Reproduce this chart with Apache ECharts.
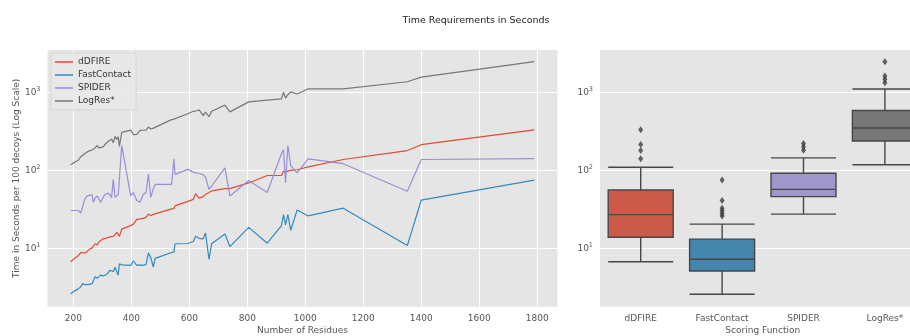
<!DOCTYPE html>
<html><head><meta charset="utf-8">
<script src="https://cdn.jsdelivr.net/npm/echarts@6/dist/echarts.min.js"></script>
<style>html,body{margin:0;padding:0;background:#fff}#c{width:910px;height:336px}</style>
</head><body><div id="c"></div>
<script>
const residues = [191,206,217,226,232,240,248,258,265,269,275,283,288,294,303,309,315,321,326,332,338,344,350,355,359,367,398,407,419,430,441,451,459,467,476,482,539,547,551,595,614,622,634,648,656,668,677,723,740,805,869,918,925,932,940,950,972,1010,1131,1352,1400,1790];
const dDFIRE = [6.7,7.5,8.0,8.8,9.3,8.7,9.1,9.8,10.1,10.3,11.4,11.0,12.0,12.5,13.2,13.3,13.5,13.8,14.0,14.1,14.2,13.8,16.0,16.0,14.2,17.6,19.5,20.4,23.5,23.8,24.2,24.9,27.5,26.2,27.2,28,32,32.4,35,40,42.5,50,44,46,49,52,54.5,58.4,58.4,69,86,86,98,95,98,100,102,111,138,180,214,332];
const fastContact = [2.6,2.85,3.0,3.2,3.5,3.4,3.4,3.45,3.5,3.5,4.3,4.1,4.1,4.5,4.4,4.3,4.6,4.9,5.2,5.1,5.0,5.7,5.5,4.5,6.3,6.1,6.0,6.9,6.0,6.1,6.0,6.2,8.7,7.6,5.7,7.4,8.8,8.9,11.4,11.5,12.2,14.2,13.4,13.2,15.7,7.2,11.4,15.2,10.5,18.5,11.6,19.5,27,20,27,17,31,26,32.7,10.8,41.4,75];
const spider = [30.5,30.5,30.5,28.5,27.4,43,47,48,49,39,44,47,43,39,45,49,50,51,52,45,77,45,47,49,47,209,47,52,41,39,49,52,90,45,58,66,66,141,89,103,95,93,92,88,82,57,63,108,47,74,52,165,186,69,209,115,93,141,122,54,138,142];
const logRes = [118,128,135,150,156,165,173,180,183,185,195,209,195,198,201,215,226,237,245,254,226,274,249,270,204,308,330,288,290,327,328,330,361,341,350,361,450,457,460,535,575,580,600,505,560,490,575,690,565,760,800,830,1010,850,940,1020,960,1120,1115,1380,1580,2500];

const seriesNames = ['dDFIRE','FastContact','SPIDER','LogRes*'];
const lineColors = ['#E24A33','#348ABD','#988ED5','#777777'];
const boxColors = ['#CC5A49','#4586AC','#9F97CC','#777777'];
// boxplot stats: [min, Q1, median, Q3, max]
const boxStats = [
  [6.7, 13.8, 27, 56, 110],
  [2.56, 5.1, 7.2, 13.1, 20.4],
  [27.4, 46, 57, 92, 145],
  [118, 239, 351, 590, 1115]
];
const outliers = [
  [0, 141],[0, 180],[0, 215],[0, 334],
  [1, 26],[1, 28],[1, 30.2],[1, 32.7],[1, 41],[1, 75],
  [2, 182],[2, 201],[2, 221],
  [3, 1343],[3, 1483],[3, 1633],[3, 2490]
];
const xTicks = [200,400,600,800,1000,1200,1400,1600,1800];
const yTicks = [10,100,1000];

const FONT = 'DejaVu Sans';
const tickColor = '#555555';
const yLabel = {
  color: tickColor, fontFamily: FONT, fontSize: 9, margin: 7,
  formatter: v => '{a|10}{b|' + Math.round(Math.log10(v)) + '}',
  rich: { a: {fontSize: 9, fontFamily: FONT, color: tickColor},
          b: {fontSize: 6.5, fontFamily: FONT, color: tickColor, padding: [0,0,6,0]} }
};

const chart = echarts.init(document.getElementById('c'), null, {renderer: 'canvas'});
const lineSeries = seriesNames.map((n, i) => ({
  name: n, type: 'line', xAxisIndex: 0, yAxisIndex: 0,
  data: residues.map((x, j) => [x, [dDFIRE, fastContact, spider, logRes][i][j]]),
  showSymbol: false, symbol: 'none',
  lineStyle: {width: 1.2, color: lineColors[i]}, itemStyle: {color: lineColors[i]},
  animation: false
}));

chart.setOption({
  animation: false,
  title: {
    text: 'Time Requirements in Seconds', left: 471, top: 11, textAlign: 'center',
    textStyle: {fontFamily: FONT, fontSize: 9.5, fontWeight: 'normal', color: '#222'}
  },
  legend: {
    data: seriesNames, orient: 'vertical', left: 51, top: 53,
    icon: 'rect', itemWidth: 18, itemHeight: 1.5, itemGap: 3,
    padding: [4, 5, 4, 4],
    backgroundColor: 'rgba(232,232,232,0.9)', borderColor: '#d6d6d6', borderWidth: 1, borderRadius: 2,
    textStyle: {fontFamily: FONT, fontSize: 9, color: '#333', lineHeight: 10}
  },
  grid: [
    {left: 47.5, top: 50, width: 510, height: 256.7, show: true, backgroundColor: '#E5E5E5', borderWidth: 0, containLabel: false, outerBoundsMode: 'none'},
    {left: 600, top: 50, width: 325.6, height: 256.7, show: true, backgroundColor: '#E5E5E5', borderWidth: 0, containLabel: false, outerBoundsMode: 'none'}
  ],
  xAxis: [
    {type: 'value', gridIndex: 0, min: 111, max: 1870,
     name: 'Number of Residues', nameLocation: 'middle', nameGap: 19, nameMoveOverlap: false,
     nameTextStyle: {fontFamily: FONT, fontSize: 9, color: tickColor},
     axisLine: {show: false}, axisTick: {show: false, customValues: xTicks},
     axisLabel: {customValues: xTicks, formatter: v => String(v), color: tickColor, fontFamily: FONT, fontSize: 9, margin: 7},
     splitLine: {show: true, lineStyle: {color: '#ffffff', width: 1}}},
    {type: 'category', gridIndex: 1, data: seriesNames,
     name: 'Scoring Function', nameLocation: 'middle', nameGap: 19, nameMoveOverlap: false,
     nameTextStyle: {fontFamily: FONT, fontSize: 9, color: tickColor},
     axisLine: {show: false}, axisTick: {show: false},
     axisLabel: {color: tickColor, fontFamily: FONT, fontSize: 9, margin: 7},
     splitLine: {show: false}}
  ],
  yAxis: [
    {type: 'log', gridIndex: 0, min: 1.77, max: 3530, logBase: 10,
     name: 'Time in Seconds per 100 decoys (Log Scale)', nameLocation: 'middle', nameGap: 26, nameMoveOverlap: false,
     nameTextStyle: {fontFamily: FONT, fontSize: 9, color: tickColor},
     axisLine: {show: false}, axisTick: {show: false, customValues: yTicks},
     axisLabel: Object.assign({customValues: yTicks}, yLabel),
     splitLine: {show: true, lineStyle: {color: '#ffffff', width: 1}}},
    {type: 'log', gridIndex: 1, min: 1.77, max: 3530, logBase: 10,
     axisLine: {show: false}, axisTick: {show: false, customValues: yTicks},
     axisLabel: Object.assign({customValues: yTicks}, yLabel),
     splitLine: {show: true, lineStyle: {color: '#ffffff', width: 1}}}
  ],
  series: lineSeries.concat([
    {name: 'box', type: 'boxplot', xAxisIndex: 1, yAxisIndex: 1,
     boxWidth: [65, 65],
     data: boxStats.map((s, i) => ({value: s, itemStyle: {color: boxColors[i], borderColor: '#474747', borderWidth: 1.4}})),
     itemStyle: {borderColor: '#474747', borderWidth: 1.4}},
    {name: 'outliers', type: 'scatter', xAxisIndex: 1, yAxisIndex: 1,
     symbol: 'diamond', symbolSize: [5, 7],
     itemStyle: {color: '#3d3d3d'},
     data: outliers}
  ])
});
</script></body></html>
